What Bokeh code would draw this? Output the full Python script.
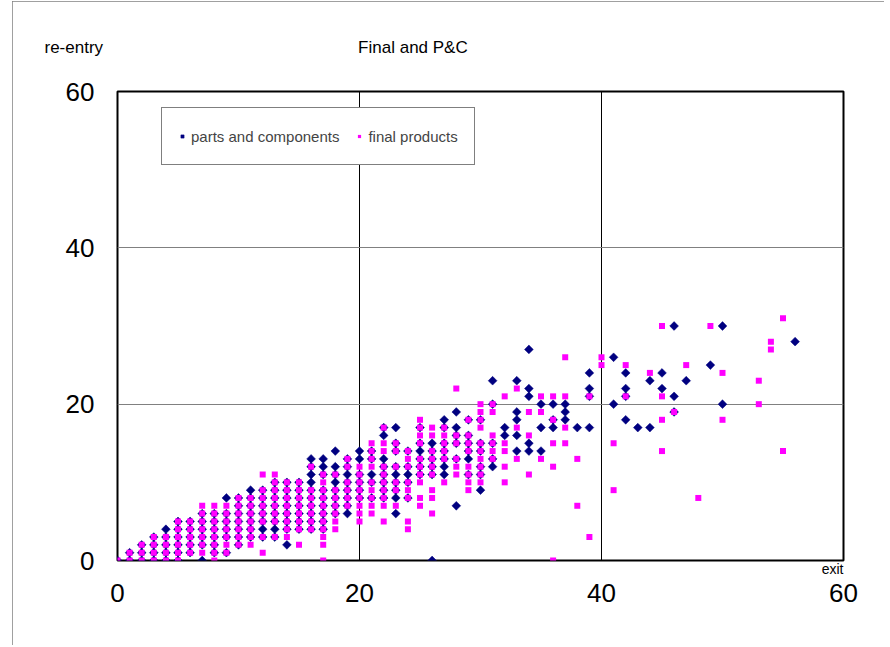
import numpy as np
from bokeh.plotting import figure
from bokeh.models import Range1d, FixedTicker, Legend, LegendItem, LinearAxis
from bokeh.embed import file_html
from bokeh.resources import INLINE

# re-entry values observed at each exit value (parts and components)
pc_cols = {
    0: [0], 1: [0, 1], 2: [0, 1, 2], 3: [0, 1, 2, 3], 4: [0, 1, 2, 3, 4],
    5: [0, 1, 2, 3, 4, 5], 6: [1, 2, 3, 4, 5], 7: [0, 2, 3, 4, 5, 6],
    8: [1, 2, 3, 4, 5, 6], 9: [1, 3, 4, 5, 6, 8], 10: [2, 3, 4, 5, 6, 7, 8],
    11: [3, 4, 5, 6, 7, 8, 9], 12: [3, 4, 5, 6, 7, 8, 9],
    13: [3, 4, 5, 6, 7, 8, 9, 10], 14: [2, 4, 5, 6, 7, 8, 9, 10],
    15: [4, 5, 6, 7, 8, 9, 10], 16: [4, 5, 6, 7, 8, 9, 10, 11, 12, 13],
    17: [4, 5, 6, 7, 8, 9, 11, 12, 13], 18: [6, 7, 8, 9, 10, 11, 12, 14],
    19: [6, 7, 8, 9, 10, 11, 12, 13], 20: [8, 9, 10, 11, 13, 14],
    21: [8, 10, 11, 13, 14], 22: [8, 9, 10, 11, 12, 13, 16, 17],
    23: [6, 8, 9, 10, 11, 12, 14, 15, 17], 24: [8, 10, 11, 12, 14],
    25: [11, 12, 13, 14, 15, 17], 26: [0, 11, 12, 13, 14, 15],
    27: [11, 12, 13, 14, 15, 17, 18], 28: [7, 13, 15, 16, 17, 19],
    29: [11, 13, 14, 15, 16, 18], 30: [9, 11, 12, 14, 15, 18],
    31: [12, 13, 15, 20, 23], 32: [16, 17], 33: [14, 16, 18, 19, 23],
    34: [14, 15, 21, 22, 27], 35: [14, 17, 20], 36: [17, 18, 20],
    37: [18, 19, 20], 38: [17], 39: [17, 21, 22, 24], 41: [20, 26],
    42: [18, 21, 22, 24], 43: [17], 44: [17, 23], 45: [22, 24],
    46: [19, 21, 30], 47: [23], 49: [25], 50: [20, 30], 56: [28],
}

# re-entry values observed at each exit value (final products)
fp_cols = {
    0: [0], 1: [0, 1], 2: [0, 1, 2], 3: [0, 1, 2, 3], 4: [0, 1, 2, 3],
    5: [0, 1, 2, 3, 4, 5], 6: [1, 2, 3, 4, 5], 7: [1, 2, 3, 4, 5, 6, 7],
    8: [0, 1, 2, 3, 4, 5, 6, 7], 9: [1, 2, 3, 4, 5, 6, 7],
    10: [2, 3, 4, 5, 6, 7, 8], 11: [2, 3, 4, 5, 6, 7, 8],
    12: [1, 3, 5, 6, 7, 8, 9, 11], 13: [3, 5, 6, 7, 8, 9, 10, 11],
    14: [3, 4, 5, 6, 7, 8, 9, 10], 15: [2, 4, 5, 6, 7, 8, 9, 10],
    16: [4, 5, 6, 7, 8, 9, 12], 17: [0, 2, 3, 4, 5, 6, 7, 8, 9, 10, 11],
    18: [4, 5, 6, 7, 8, 9, 11], 19: [7, 8, 9, 10, 12, 13],
    20: [5, 6, 7, 8, 9, 10, 11, 12], 21: [6, 7, 8, 9, 10, 12, 13, 14, 15],
    22: [5, 7, 8, 9, 10, 11, 12, 14, 15, 17], 23: [7, 9, 10, 12, 14, 15],
    24: [4, 5, 8, 9, 10, 12, 13, 14], 25: [7, 8, 10, 11, 12, 13, 15, 16, 17, 18],
    26: [6, 8, 9, 11, 12, 13, 14, 16, 17], 27: [10, 13, 14, 15, 16, 17],
    28: [11, 12, 13, 15, 16, 22], 29: [9, 10, 11, 12, 14, 15, 16, 18],
    30: [10, 11, 12, 13, 14, 15, 17, 18, 19, 20], 31: [13, 14, 15, 16, 19, 20],
    32: [10, 12, 14, 15, 21], 33: [13, 17, 22], 34: [11, 16, 19],
    35: [13, 19, 21], 36: [0, 12, 15, 18, 21], 37: [15, 17, 21, 26],
    38: [7, 13], 39: [3, 21], 40: [25, 26], 41: [9, 15], 42: [21, 25],
    44: [24], 45: [14, 18, 21, 30], 46: [19], 47: [25], 48: [8], 49: [30],
    50: [18, 24], 53: [20, 23], 54: [27, 28], 55: [14, 31],
}

x_ticks = [0, 20, 40, 60]
y_ticks = [0, 20, 40, 60]
x_title_pos = 59.1   # where the "exit" caption sits on the x scale
y_title = "re-entry"
chart_title = "Final and P&C"

pc_x = [x for x, ys in pc_cols.items() for _ in ys]
pc_y = [y for ys in pc_cols.values() for y in ys]
fp_x = [x for x, ys in fp_cols.items() for _ in ys]
fp_y = [y for ys in fp_cols.values() for y in ys]

FONT = "Liberation Sans"

p = figure(width=872, height=644, output_backend="svg", toolbar_location=None,
           x_range=Range1d(0, 60), y_range=Range1d(0, 60),
           min_border_left=105, min_border_right=41, min_border_top=90, min_border_bottom=85)
p.margin = (1, 0, 0, 12)
p.styles = {"outline": "1px solid #808080", "outline-offset": "-1px"}
p.background_fill_color = "white"
p.border_fill_color = "white"
p.outline_line_color = "black"
p.outline_line_width = 2

# y caption and chart title share the single title row above the frame
p.title.text = y_title + "\u00a0" * 54 + chart_title
p.title.align = "left"
p.title.offset = -73
p.title.standoff = 69
p.title.text_font = FONT
p.title.text_font_size = "17px"
p.title.text_font_style = "normal"
p.title.text_color = "black"

for ax, ticks in ((p.xaxis, x_ticks), (p.yaxis, y_ticks)):
    ax.ticker = FixedTicker(ticks=ticks)
    ax.axis_line_color = None
    ax.major_tick_line_color = None
    ax.minor_tick_line_color = None
    ax.major_tick_out = 0
    ax.major_tick_in = 0
    ax.minor_tick_out = 0
    ax.major_label_text_font = FONT
    ax.major_label_text_font_size = "26px"
    ax.major_label_text_color = "black"
p.xaxis.major_label_standoff = 4
p.yaxis.major_label_standoff = 23

# "exit" caption as a one-tick axis right under the frame
exit_axis = LinearAxis(ticker=FixedTicker(ticks=[x_title_pos]),
                       major_label_overrides={x_title_pos: "exit"},
                       axis_line_color=None, major_tick_line_color=None,
                       minor_tick_line_color=None, major_tick_out=0, major_tick_in=0,
                       minor_tick_out=0, major_label_standoff=0,
                       major_label_text_font=FONT, major_label_text_font_size="14px",
                       major_label_text_color="black")
p.below = [exit_axis] + list(p.below)

p.xgrid.ticker = FixedTicker(ticks=x_ticks)
p.ygrid.ticker = FixedTicker(ticks=y_ticks)
p.xgrid.grid_line_color = "black"
p.ygrid.grid_line_color = "#808080"

r_pc = p.scatter(pc_x, pc_y, marker="square", angle=np.pi / 4, size=6.2,
                 fill_color="#000080", line_color="#000080", line_width=0.5)
r_fp = p.scatter(fp_x, fp_y, marker="square", size=6,
                 fill_color="#FF00FF", line_color="#FF00FF", line_width=0)

legend = Legend(items=[LegendItem(label="parts and components", renderers=[r_pc]),
                       LegendItem(label="final products", renderers=[r_fp])],
                orientation="horizontal", location=(44, 395),
                label_text_font=FONT, label_text_font_size="15px",
                label_standoff=5, glyph_width=8, glyph_height=10, label_height=24,
                spacing=16, padding=16, margin=0,
                border_line_color="black", border_line_width=1,
                background_fill_color="white", background_fill_alpha=1)
p.add_layout(legend, "center")

open("out.html", "w").write(file_html(p, INLINE))
